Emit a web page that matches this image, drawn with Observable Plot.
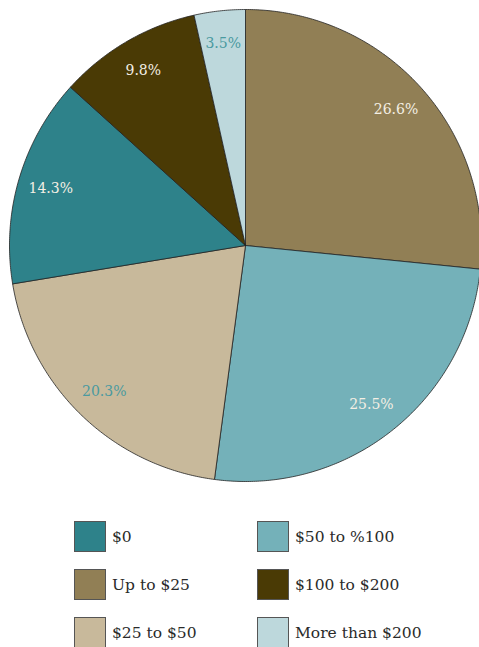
<!DOCTYPE html>
<html>
<head>
<meta charset="utf-8">
<script src="https://cdn.jsdelivr.net/npm/d3@7"></script>
<script src="https://cdn.jsdelivr.net/npm/@observablehq/plot@0.6"></script>
<style>
  html, body { margin: 0; padding: 0; background: #fff; }
  body { width: 479px; height: 647px; overflow: hidden; font-family: "DejaVu Serif", serif; }
  #legend { display: grid; grid-template-columns: 183px 200px; row-gap: 17px; margin-left: 74px; margin-top: 31px; }
  .item { display: flex; align-items: center; font-size: 15.5px; color: #2a2a2a; height: 31px; }
  .sw { width: 30px; height: 29px; border: 1px solid #555; margin-right: 6px; box-sizing: content-box; }
</style>
</head>
<body>
<div id="chart"></div>
<div id="legend"></div>
<script>
// Slices in clockwise order from 12 o'clock
const categories = ["Up to $25", "$50 to %100", "$25 to $50", "$0", "$100 to $200", "More than $200"];
const values = [26.6, 25.5, 20.3, 14.3, 9.8, 3.5];
const colors = ["#917f55", "#74b1b9", "#c8b99b", "#2e828a", "#4a3a05", "#bdd8dc"];
const labelColors = ["#f4efe4", "#f4efe4", "#4a9aa0", "#f4efe4", "#f4efe4", "#4a9aa0"];
// Legend order (row by row, two columns)
const legendOrder = ["$0", "$50 to %100", "Up to $25", "$100 to $200", "$25 to $50", "More than $200"];

const R = 236;
const width = 479, height = 490;
const cx = 245, cy = 245;

const pie = d3.pie().sort(null).value(d => d.value);
const arcs = pie(categories.map((c, i) => ({category: c, value: values[i]})));

// polygon points for each slice (unit radius), angle measured clockwise from top
const poly = [];
for (const a of arcs) {
  const c = a.data.category;
  poly.push({category: c, x: 0, y: 0});
  const n = Math.max(2, Math.ceil((a.endAngle - a.startAngle) / (Math.PI / 360)));
  for (let k = 0; k <= n; k++) {
    const t = a.startAngle + (a.endAngle - a.startAngle) * k / n;
    poly.push({category: c, x: Math.sin(t), y: Math.cos(t)});
  }
  poly.push({category: c, x: 0, y: 0});
}

const lr = 0.86;
const labels = arcs.map((a, i) => {
  const t = (a.startAngle + a.endAngle) / 2;
  return {category: a.data.category, text: values[i].toFixed(1) + "%", x: lr * Math.sin(t), y: lr * Math.cos(t), color: labelColors[i]};
});

const chart = Plot.plot({
  width, height,
  margin: 0,
  style: {background: "transparent"},
  x: {domain: [-cx / R, (width - cx) / R], range: [0, width], axis: null},
  y: {domain: [-(height - cy) / R, cy / R], range: [height, 0], axis: null},
  color: {domain: categories, range: colors},
  marks: [
    Plot.line(poly, {x: "x", y: "y", z: "category", fill: "category", stroke: "#222", strokeWidth: 0.8, curve: "linear"}),
    Plot.text(labels, {x: "x", y: "y", text: "text", fill: d => d.color, fontSize: 14, fontFamily: "DejaVu Serif", textAnchor: "middle"})
  ]
});
document.getElementById("chart").appendChild(chart);

const leg = document.getElementById("legend");
for (const c of legendOrder) {
  const i = categories.indexOf(c);
  const div = document.createElement("div");
  div.className = "item";
  div.innerHTML = `<span class="sw" style="background:${colors[i]}"></span><span>${c}</span>`;
  leg.appendChild(div);
}
</script>
</body>
</html>
